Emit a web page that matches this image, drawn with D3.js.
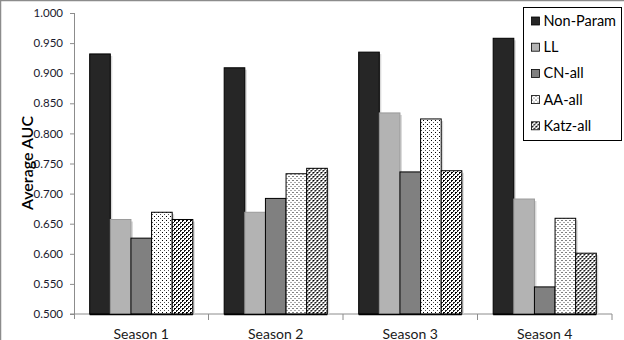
<!DOCTYPE html>
<html>
<head>
<meta charset="utf-8">
<script src="https://cdn.jsdelivr.net/npm/d3@7"></script>
<style>
  body { margin: 0; background: #fff; }
  svg { display: block; font-family: Lato, "Open Sans", sans-serif; }
</style>
</head>
<body>
<div id="chart"></div>
<script>
const width = 624;
const height = 340;

const seasons = ["Season 1", "Season 2", "Season 3", "Season 4"];
const methods = ["Non-Param", "LL", "CN-all", "AA-all", "Katz-all"];
const nonParam = [0.932, 0.909, 0.935, 0.958];
const ll = [0.657, 0.669, 0.834, 0.691];
const cnAll = [0.626, 0.692, 0.736, 0.545];
const aaAll = [0.669, 0.733, 0.824, 0.659];
const katzAll = [0.657, 0.742, 0.738, 0.601];
const yTicks = [0.5, 0.55, 0.6, 0.65, 0.7, 0.75, 0.8, 0.85, 0.9, 0.95, 1.0];

const series = [nonParam, ll, cnAll, aaAll, katzAll];
const fills = ["#262626", "#b3b3b3", "#808080", "url(#dots)", "url(#checks)"];

const margin = { top: 13, right: 12, bottom: 26, left: 74 };

const svg = d3.select("#chart")
    .append("svg")
    .attr("width", width)
    .attr("height", height);

// patterns for the two dotted series
const defs = svg.append("defs");
const dots = defs.append("pattern")
    .attr("id", "dots")
    .attr("width", 4).attr("height", 4)
    .attr("patternUnits", "userSpaceOnUse");
dots.append("rect").attr("width", 4).attr("height", 4).attr("fill", "#fff");
dots.append("rect").attr("x", 0).attr("y", 0).attr("width", 1).attr("height", 1).attr("fill", "#000");
dots.append("rect").attr("x", 2).attr("y", 2).attr("width", 1).attr("height", 1).attr("fill", "#555");

const checks = defs.append("pattern")
    .attr("id", "checks")
    .attr("width", 4).attr("height", 4)
    .attr("patternUnits", "userSpaceOnUse");
checks.append("rect").attr("width", 4).attr("height", 4).attr("fill", "#fff");
checks.append("rect").attr("x", 0).attr("y", 0).attr("width", 2).attr("height", 1).attr("fill", "#000");
checks.append("rect").attr("x", 0).attr("y", 0).attr("width", 1).attr("height", 2).attr("fill", "#000");
checks.append("rect").attr("x", 2).attr("y", 2).attr("width", 2).attr("height", 1).attr("fill", "#222");
checks.append("rect").attr("x", 2).attr("y", 2).attr("width", 1).attr("height", 2).attr("fill", "#222");

// outer chart border (only top and left show)
svg.append("rect")
    .attr("x", 0.5).attr("y", 0.5)
    .attr("width", width + 10).attr("height", height + 10)
    .attr("fill", "none")
    .attr("stroke", "#8c8c8c")
    .attr("stroke-width", 1.5);

const x0 = d3.scaleBand()
    .domain(seasons)
    .range([margin.left, width - margin.right]);

const x1 = d3.scaleBand()
    .domain(methods)
    .range([0, x0.bandwidth()])
    .paddingInner(0)
    .paddingOuter(0.76);

const y = d3.scaleLinear()
    .domain([0.5, 1.0])
    .range([height - margin.bottom, margin.top]);

// y axis
const yAxis = svg.append("g")
    .attr("transform", `translate(${margin.left},0)`)
    .call(d3.axisLeft(y).tickValues(yTicks).tickFormat(d3.format(".3f")).tickSize(4).tickSizeOuter(0));
yAxis.select(".domain").remove();
yAxis.append("line")
    .attr("x1", 0.5).attr("x2", 0.5)
    .attr("y1", margin.top).attr("y2", height - margin.bottom + 5)
    .attr("stroke", "#8c8c8c");
yAxis.selectAll(".tick line").attr("stroke", "#8c8c8c");
yAxis.selectAll(".tick text")
    .attr("x", -11)
    .attr("fill", "#1a1a2e")
    .style("font-size", "11.5px")
    .style("font-family", "Lato, sans-serif");

// x axis
const xAxis = svg.append("g")
    .attr("transform", `translate(0,${height - margin.bottom})`);
xAxis.append("line")
    .attr("x1", margin.left - 4).attr("x2", width - margin.right)
    .attr("stroke", "#8c8c8c");
const xTickPos = seasons.map(s => x0(s)).concat([x0(seasons[seasons.length - 1]) + x0.bandwidth()]);
xAxis.selectAll("line.tk")
    .data(xTickPos.slice(1))
    .join("line")
    .attr("class", "tk")
    .attr("x1", d => d).attr("x2", d => d)
    .attr("y1", 0).attr("y2", 6)
    .attr("stroke", "#8c8c8c");
xAxis.selectAll("text")
    .data(seasons)
    .join("text")
    .attr("x", d => x0(d) + x0.bandwidth() / 2)
    .attr("y", 24.5)
    .attr("text-anchor", "middle")
    .attr("fill", "#1a1a1a")
    .style("font-size", "14px")
    .text(d => d);

// bars
const groups = svg.append("g")
    .selectAll("g")
    .data(seasons)
    .join("g")
    .attr("transform", d => `translate(${x0(d)},0)`);

const barData = (s, i) => methods.map((m, k) => ({ method: m, value: series[k][i], k }));

// soft shadow on the right of each bar
groups.selectAll("rect.shadow")
    .data(barData)
    .join("rect")
    .attr("class", "shadow")
    .attr("x", d => x1(d.method) + 2)
    .attr("y", d => y(d.value) + 2)
    .attr("width", x1.bandwidth())
    .attr("height", d => y(0.5) - y(d.value) - 2)
    .attr("fill", "#d9d9d9");

groups.selectAll("rect.bar")
    .data(barData)
    .join("rect")
    .attr("class", "bar")
    .attr("x", d => x1(d.method))
    .attr("y", d => y(d.value))
    .attr("width", x1.bandwidth())
    .attr("height", d => y(0.5) - y(d.value))
    .attr("fill", d => fills[d.k])
    .attr("stroke", d => d.k === 1 ? "#9a9a9a" : "#000")
    .attr("stroke-width", 1);

groups.append("line")
    .attr("x1", x1(methods[0]))
    .attr("x2", x1(methods[methods.length - 1]) + x1.bandwidth())
    .attr("y1", y(0.5) + 0.5).attr("y2", y(0.5) + 0.5)
    .attr("stroke", "#000")
    .attr("stroke-width", 1.5);

// y axis title
svg.append("text")
    .attr("transform", `translate(33,163) rotate(-90)`)
    .attr("text-anchor", "middle")
    .attr("fill", "#000")
    .style("font-size", "16px")
    .style("font-weight", "600")
    .text("Average AUC");

// legend
const legend = svg.append("g").attr("transform", "translate(523.5,7.5)");
legend.append("rect")
    .attr("width", 98).attr("height", 133)
    .attr("fill", "#fff")
    .attr("stroke", "#000");
const item = legend.selectAll("g")
    .data(methods)
    .join("g")
    .attr("transform", (d, i) => `translate(8,${13.5 + i * 26.2})`);
item.append("rect")
    .attr("x", 0).attr("y", -4)
    .attr("width", 8).attr("height", 8)
    .attr("fill", (d, i) => fills[i])
    .attr("stroke", "#000")
    .attr("stroke-width", 0.8);
item.append("text")
    .attr("x", 12).attr("y", 5)
    .attr("fill", "#000")
    .style("font-size", "14.5px")
    .text(d => d);
</script>
</body>
</html>
